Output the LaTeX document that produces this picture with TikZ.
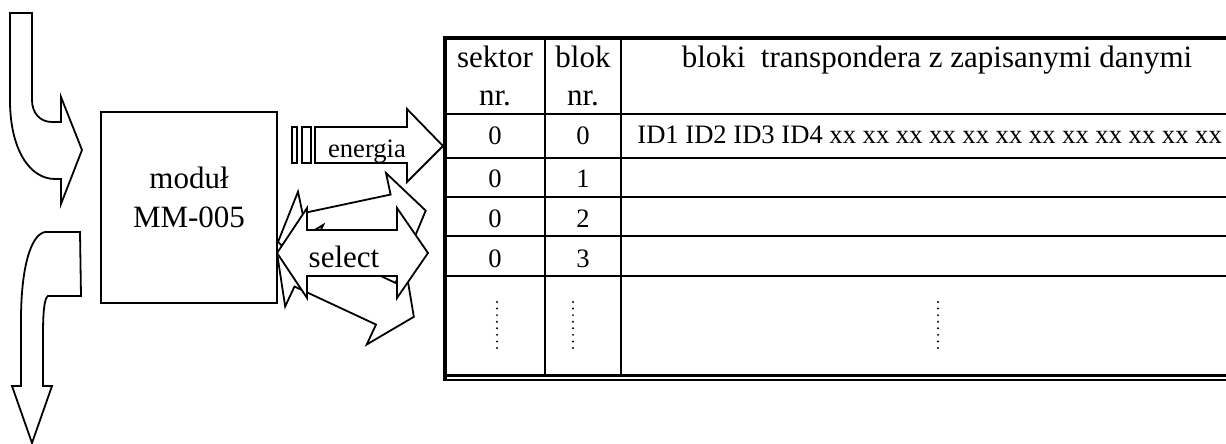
\documentclass[tikz,border=0pt]{standalone}
\usepackage{fontspec}
\setmainfont{Liberation Serif}
\begin{document}
\begin{tikzpicture}[x=0.5pt,y=-0.5pt,
  ln/.style={line width=1pt},
  blockarrow/.style={draw, line width=0.9pt, fill=white, line join=miter},
  hdr/.style={font=\fontsize{15.5}{18}\selectfont, inner sep=0, anchor=base},
  cell/.style={font=\fontsize{13.3}{16}\selectfont, inner sep=0, anchor=base},
]
\useasboundingbox (0,0) rectangle (1226,444);

% curved arrows on the left
\draw[blockarrow] (10,13) -- (10,100) .. controls (10,150) and (30,179) .. (55,179) -- (61,179) -- (61,204) -- (82,150) -- (61,97) -- (61,122) -- (52,122) .. controls (40,122) and (32,113) .. (32,100) -- (32,13) -- cycle;
\draw[blockarrow] (45,232) -- (80,232) -- (81,296) -- (48,296) .. controls (44,298) and (43,315) .. (43,335) -- (43,386) -- (52,386) -- (32,443) -- (12,386) -- (21,386) -- (21,320) .. controls (21,270) and (30,235) .. (45,232) -- cycle;

% module
\node[draw, line width=1pt, minimum width=88pt, minimum height=95.5pt, inner sep=0] (mod) at (189,207.5) {};
\node[hdr] (modA) at (189,188) {moduł};
\node[hdr] (modB) at (189,227) {MM-005};

% energia arrow
\draw[blockarrow] (315,127) -- (407,127) -- (407,109) -- (443,146) -- (407,182) -- (407,163) -- (315,163) -- cycle;
\draw[ln] (292,127) rectangle (297,163);
\draw[ln] (302,127) rectangle (311,163);
\node[cell] (en) at (367,157) {energia};

% double arrows
\begin{scope}[shift={(278,242)}, rotate=12]
\draw[blockarrow] (0,0) -- (30,-45) -- (30,-23) -- (120,-23) -- (120,-45) -- (151,0) -- (120,45) -- (120,23) -- (30,23) -- (30,45) -- cycle;
\end{scope}
\begin{scope}[shift={(277,253)}, rotate=-25]
\draw[blockarrow] (0,0) -- (30,-45) -- (30,-23) -- (120,-23) -- (120,-45) -- (151,0) -- (120,45) -- (120,23) -- (30,23) -- (30,45) -- cycle;
\end{scope}
\begin{scope}[shift={(277,253)}]
\draw[blockarrow] (0,0) -- (30,-45) -- (30,-23) -- (120,-23) -- (120,-45) -- (151,0) -- (120,45) -- (120,23) -- (30,23) -- (30,45) -- cycle;
\end{scope}
\node[hdr] (sel) at (344,267) {select};

% table
\draw[line width=2pt] (443,38) -- (1230,38);
\draw[line width=2pt] (445,37) -- (445,380);
\foreach \y in {114,158,197,236,276} \draw[ln] (446,\y) -- (1230,\y);
\draw[ln] (545,38) -- (545,375);
\draw[ln] (621,38) -- (621,375);
\draw[line width=1.5pt] (443,375.5) -- (1230,375.5);
\draw[line width=0.8pt] (443,380) -- (1230,380);

\node[hdr] (s1) at (495,68) {sektor};
\node[hdr] (s2) at (495,105) {nr.};
\node[hdr] (b1) at (583,68) {blok};
\node[hdr] (b2) at (583,105) {nr.};
\node[hdr] (d1) at (937,68) {bloki\ \ transpondera z zapisanymi danymi};

\node[cell] (r0s) at (495,145) {0};
\node[cell] (r0b) at (583,145) {0};
\node[cell] (r1s) at (495,187) {0};
\node[cell] (r1b) at (583,187) {1};
\node[cell] (r2s) at (495,227) {0};
\node[cell] (r2b) at (583,227) {2};
\node[cell] (r3s) at (495,267) {0};
\node[cell] (r3b) at (583,267) {3};
\node[cell, anchor=base west] (id) at (637,144) {ID1 ID2 ID3 ID4 xx xx xx xx xx xx xx xx xx xx xx xx};

\foreach \x in {497,573,938} \foreach \i in {0,...,7} \fill (\x,302+6.57*\i) circle (0.55pt);
\end{tikzpicture}
\end{document}
